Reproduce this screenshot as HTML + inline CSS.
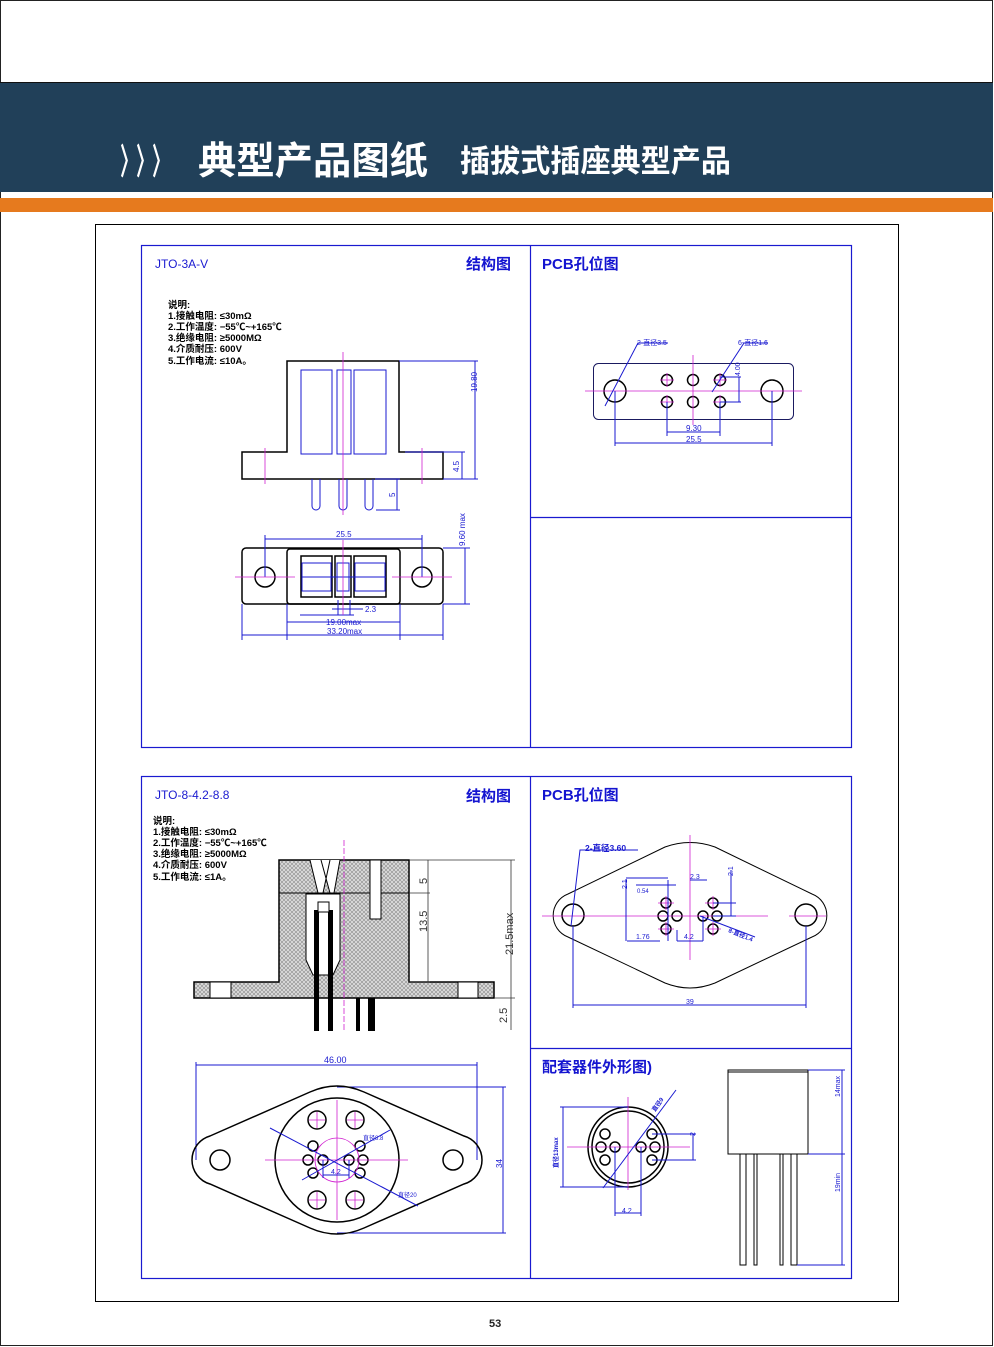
<!DOCTYPE html>
<html><head><meta charset="utf-8"><style>
html,body{margin:0;padding:0;background:#fff}
svg{display:block}
text{font-family:"Liberation Sans","Noto Sans CJK SC",sans-serif}
.b{stroke:#1a1ad0;fill:none;stroke-width:1}
.k{stroke:#000;fill:none;stroke-width:1.5}
.m{stroke:#d020d0;fill:none;stroke-width:0.8}
.bt{fill:#1a1ad0;font-size:8px}
.nt{font-size:9.5px;font-weight:bold;fill:#000}
.ht{fill:#1414d0;font-size:15px;font-weight:bold}
</style></head><body>
<svg width="994" height="1347" viewBox="0 0 994 1347" xmlns="http://www.w3.org/2000/svg">
<defs>
<pattern id="h" width="4" height="4" patternUnits="userSpaceOnUse">
<rect width="4" height="4" fill="#dcdcdc"/>
<path d="M0,0L4,4M4,0L0,4" stroke="#8a8a8a" stroke-width="0.6"/>
</pattern>
</defs>
<rect x="0.5" y="0.5" width="992" height="1345" fill="#fff" stroke="#222" stroke-width="1"/>
<!-- header -->
<rect x="0" y="82" width="993" height="110" fill="#214059"/>
<line x1="0" y1="82.5" x2="993" y2="82.5" stroke="#111"/>
<rect x="0" y="198" width="993" height="14" fill="#e67a1e"/>
<text x="120" y="174" fill="#fff" font-size="36" font-weight="bold" transform="translate(120,0) scale(0.5,1) translate(-120,0)" textLength="100">〉〉〉</text>
<text x="198" y="174" fill="#fff" font-size="38" font-weight="bold" font-family="'Noto Sans CJK SC',sans-serif" textLength="230" lengthAdjust="spacingAndGlyphs">典型产品图纸</text>
<text x="460" y="172" fill="#fff" font-size="31" font-weight="bold" font-family="'Noto Sans CJK SC',sans-serif" textLength="271" lengthAdjust="spacingAndGlyphs">插拔式插座典型产品</text>
<!-- outer frame -->
<rect x="95.5" y="224.5" width="803" height="1077" fill="none" stroke="#000"/>
<!-- panels -->
<g stroke="#1a1ad0" fill="none" stroke-width="1.2">
<rect x="141.5" y="245.5" width="710" height="502"/>
<line x1="530.5" y1="245" x2="530.5" y2="747"/>
<line x1="530" y1="517.5" x2="851" y2="517.5"/>
<rect x="141.5" y="776.5" width="710" height="502"/>
<line x1="530.5" y1="776" x2="530.5" y2="1278"/>
<line x1="530" y1="1048.5" x2="851" y2="1048.5"/>
</g>
<text x="155" y="268" style="font-size:12px" fill="#1a1ad0">JTO-3A-V</text>
<text x="466" y="269" class="ht">结构图</text>
<text x="542" y="269" class="ht">PCB孔位图</text>
<text x="155" y="799" style="font-size:12px" fill="#1a1ad0">JTO-8-4.2-8.8</text>
<text x="466" y="801" class="ht">结构图</text>
<text x="542" y="800" class="ht">PCB孔位图</text>
<text x="542" y="1072" class="ht">配套器件外形图)</text>

<!-- notes 1 -->
<g>
<text x="168" y="308" class="nt">说明:</text>
<text x="168" y="319" class="nt">1.接触电阻: ≤30mΩ</text>
<text x="168" y="330" class="nt">2.工作温度: −55℃~+165℃</text>
<text x="168" y="341" class="nt">3.绝缘电阻: ≥5000MΩ</text>
<text x="168" y="352" class="nt">4.介质耐压: 600V</text>
<text x="168" y="364" class="nt">5.工作电流: ≤10A。</text>
</g>
<!-- JTO-3A-V side view -->
<path d="M287,361H399V452H443V479H242V452H287Z" class="k"/>
<g class="b"><rect x="301" y="370" width="31" height="84"/><rect x="337" y="370" width="14" height="84"/><rect x="354" y="370" width="32" height="84"/>
<path d="M312,479V506a4,4 0 0 0 8,0V479M339,479V506a4,4 0 0 0 8,0V479M365,479V506a4,4 0 0 0 8,0V479"/>
<path d="M399,361H478M443,479H478M475,361V479M405,452H465M462,452V479M375,479H400M397,479V510M376,510H400"/></g>
<text transform="translate(477,392) rotate(-90)" class="bt">19.80</text>
<text transform="translate(459,472) rotate(-90)" class="bt">4.5</text>
<text transform="translate(395,497) rotate(-90)" class="bt">5</text>
<g class="m"><path d="M343,352V515M265,448V484M422,448V484"/></g>
<!-- JTO-3A-V top view -->
<rect x="242" y="548" width="201" height="56" rx="4" class="k"/>
<rect x="287" y="549" width="113" height="55" rx="3" class="k"/>
<circle cx="265" cy="577" r="10" class="k"/><circle cx="422" cy="577" r="10" class="k"/>
<g stroke="#000" stroke-width="1.5" fill="none"><rect x="301" y="556" width="31" height="41"/><rect x="335" y="556" width="16" height="41"/><rect x="354" y="556" width="32" height="41"/></g>
<g class="b"><rect x="302" y="563" width="29" height="28"/><rect x="337" y="563" width="12" height="28"/><rect x="355" y="563" width="30" height="28"/><path d="M302,577H386"/>
<path d="M265,539H422M265,535V577M422,535V577M443,548H470M443,604H470M465,548V604M338,600V615M350,600V615M332,609H363M300,615H354M287,604V640M400,604V640M287,622H400M242,604V640M443,604V640M242,635H443"/></g>
<text x="336" y="537" class="bt">25.5</text>
<text transform="translate(465,546) rotate(-90)" class="bt">9.60 max</text>
<text x="365" y="612" class="bt">2.3</text>
<text x="326" y="625" class="bt">19.00max</text>
<text x="327" y="634" class="bt">33.20max</text>
<g class="m"><path d="M235,577H295M392,577H452M343,540V615"/></g>

<!-- PCB 1 -->
<rect x="593.5" y="363.5" width="200" height="56" rx="5" fill="none" stroke="#1a1a60" stroke-width="1"/>
<g class="k" stroke-width="2"><circle cx="615" cy="391" r="11"/><circle cx="772" cy="391" r="11"/>
<circle cx="667" cy="380" r="5.5"/><circle cx="693" cy="380" r="5.5"/><circle cx="720" cy="380" r="5.5"/>
<circle cx="667" cy="402" r="5.5"/><circle cx="693" cy="402" r="5.5"/><circle cx="720" cy="402" r="5.5"/></g>
<g class="m"><path d="M585,391H802M693,355V425M660,380H674M660,402H674M713,380H727M713,402H727M667,373V387M667,395V409M720,373V387M720,395V409"/></g>
<g class="b"><path d="M605,406L638,343H668M712,392L744,343H768M720,377H741M720,402H741M739,377V402M667,402V436M720,402V436M667,432H720M615,391V446M772,391V446M615,443H772"/></g>
<text x="637" y="345" class="bt" style="font-size:7px">2-直径3.5</text>
<text x="738" y="345" class="bt" style="font-size:7px">6-直径1.6</text>
<text transform="translate(740,376) rotate(-90)" class="bt" style="font-size:7px">4.00</text>
<text x="686" y="431" class="bt">9.30</text>
<text x="686" y="442" class="bt">25.5</text>

<!-- notes 2 -->
<g>
<text x="153" y="824" class="nt">说明:</text>
<text x="153" y="835" class="nt">1.接触电阻: ≤30mΩ</text>
<text x="153" y="846" class="nt">2.工作温度: −55℃~+165℃</text>
<text x="153" y="857" class="nt">3.绝缘电阻: ≥5000MΩ</text>
<text x="153" y="868" class="nt">4.介质耐压: 600V</text>
<text x="153" y="880" class="nt">5.工作电流: ≤1A。</text>
</g>
<!-- JTO-8 side view -->
<path d="M279,860H409V982H494V998H194V982H279Z" fill="url(#h)" stroke="#000" stroke-width="1.5"/>
<rect x="210" y="982" width="21" height="16" fill="#fff" stroke="#000"/>
<rect x="458" y="982" width="20" height="16" fill="#fff" stroke="#000"/>
<line x1="279" y1="893" x2="409" y2="893" stroke="#000"/>
<rect x="370" y="860" width="11" height="59" fill="#fff" stroke="#000"/>
<path d="M306,894H340V960L333,975H313L306,960Z" fill="#fff" stroke="#000"/>
<path d="M310,860L318,893H323L330,860M321,860L330,893H334L340,860" fill="#fff" stroke="#000"/>
<g fill="#000"><rect x="314" y="910" width="5" height="121"/><rect x="328" y="910" width="5" height="121"/><rect x="356" y="998" width="4" height="33"/><rect x="368" y="998" width="7" height="33"/></g>
<rect x="318" y="902" width="11" height="10" fill="#fff" stroke="#000"/>
<g class="m"><path d="M344,840V1030" stroke-dasharray="6,2"/></g>
<g stroke="#333" fill="none" stroke-width="0.8"><path d="M409,860H515M409,893H430M409,982H430M428,860V982M494,998H515M511,860V1030"/></g>
<text transform="translate(427,884) rotate(-90)" fill="#333" font-size="11">5</text>
<text transform="translate(427,932) rotate(-90)" fill="#333" font-size="11">13.5</text>
<text transform="translate(513,955) rotate(-90)" fill="#333" font-size="11">21.5max</text>
<text transform="translate(507,1023) rotate(-90)" fill="#333" font-size="11">2.5</text>
<!-- JTO-8 bottom view -->
<g class="b"><path d="M196,1062V1160M477,1062V1160M196,1065H477M337,1087H506M337,1233H506M503,1087V1233"/></g>
<text x="324" y="1063" class="bt" style="font-size:9px">46.00</text>
<text transform="translate(502,1168) rotate(-90)" class="bt">34</text>
<path d="M210,1136L310,1092Q337,1080 364,1092L464,1136A25,25 0 0 1 464,1184L364,1228Q337,1240 310,1228L210,1184A25,25 0 0 1 210,1136Z" class="k"/>
<circle cx="220" cy="1160" r="10" class="k"/><circle cx="453" cy="1160" r="10" class="k"/>
<circle cx="337" cy="1160" r="62" class="k"/>
<g class="k" stroke-width="2.5"><circle cx="317" cy="1120" r="9"/><circle cx="355" cy="1120" r="9"/><circle cx="317" cy="1200" r="9"/><circle cx="355" cy="1200" r="9"/></g>
<g class="k" stroke-width="2"><circle cx="313" cy="1146" r="5"/><circle cx="308" cy="1160" r="5"/><circle cx="323" cy="1160" r="5"/><circle cx="313" cy="1173" r="5"/>
<circle cx="360" cy="1146" r="5"/><circle cx="363" cy="1160" r="5"/><circle cx="349" cy="1160" r="5"/><circle cx="360" cy="1173" r="5"/></g>
<g class="m"><path d="M265,1160H408M337,1100V1220M309,1120H325M317,1112V1128M347,1120H363M355,1112V1128M309,1200H325M317,1192V1208M347,1200H363M355,1192V1208"/><circle cx="337" cy="1160" r="22"/></g>
<g class="b"><path d="M270,1128L418,1206M302,1180L390,1130M323,1160V1178M349,1160V1178M323,1175H349"/></g>
<text x="363" y="1140" class="bt" style="font-size:6px">直径8.8</text>
<text x="398" y="1197" class="bt" style="font-size:6px">直径20</text>
<text x="331" y="1174" class="bt" style="font-size:7px">4.2</text>

<!-- PCB 2 -->
<path d="M568,894L665,847Q690,838 715,847L812,894A23,23 0 0 1 812,937L715,983Q690,993 665,983L568,937A23,23 0 0 1 568,894Z" fill="none" stroke="#000" stroke-width="1"/>
<g class="k" stroke-width="2"><circle cx="573" cy="915" r="11"/><circle cx="806" cy="915" r="11"/>
<circle cx="666" cy="903" r="5"/><circle cx="663" cy="916" r="5"/><circle cx="677" cy="916" r="5"/><circle cx="666" cy="929" r="5"/>
<circle cx="713" cy="903" r="5"/><circle cx="717" cy="916" r="5"/><circle cx="703" cy="916" r="5"/><circle cx="713" cy="929" r="5"/></g>
<g class="m"><path d="M542,916H768M690,835V960M789,916H826M658,903H674M666,896V910M705,903H721M713,896V910M658,929H674M666,922V936M705,929H721M713,922V936"/></g>
<g class="b"><path d="M571,926L580,850H638M573,926V1008M806,926V1008M573,1005H806M626,879V941M626,878H668M636,885H676M668,880V941M690,880H707M731,870V916M713,903H736M713,916H736M627,941H660M677,941H703M677,930V941M703,916V941M700,916L755,937"/></g>
<text x="585" y="851" class="bt" style="font-size:8.5px;font-weight:bold">2-直径3.60</text>
<text x="690" y="879" class="bt" style="font-size:7px">2.3</text>
<text x="637" y="893" class="bt" style="font-size:6px">0.54</text>
<text x="636" y="939" class="bt" style="font-size:7px">1.76</text>
<text x="684" y="939" class="bt" style="font-size:7px">4.2</text>
<text transform="translate(627,889) rotate(-90)" class="bt" style="font-size:7px">2.1</text>
<text transform="translate(733,876) rotate(-90)" class="bt" style="font-size:7px">2.1</text>
<text transform="translate(728,932) rotate(22)" class="bt" style="font-size:6px;font-weight:bold">8-直径1.4</text>
<text x="686" y="1004" class="bt" style="font-size:7px">39</text>

<!-- accessory -->
<circle cx="628" cy="1147" r="40" class="k" stroke-width="1"/>
<circle cx="628" cy="1147" r="36" class="k" stroke-width="1"/>
<g class="k" stroke-width="1.5"><circle cx="605" cy="1134" r="5"/><circle cx="601" cy="1147" r="5"/><circle cx="615" cy="1147" r="5"/><circle cx="605" cy="1160" r="5"/>
<circle cx="652" cy="1134" r="5"/><circle cx="655" cy="1147" r="5"/><circle cx="641" cy="1147" r="5"/><circle cx="652" cy="1160" r="5"/></g>
<g class="m"><path d="M567,1147H690M628,1097V1190"/></g>
<g class="b"><path d="M603,1188L676,1090M560,1107H628M560,1187H628M563,1107V1187M652,1134H696M652,1160H696M693,1134V1160M615,1147V1216M641,1147V1216M615,1213H641"/></g>
<text transform="translate(655,1112) rotate(-55)" class="bt" style="font-size:6px;font-weight:bold">直径9</text>
<text transform="translate(558,1168) rotate(-90)" class="bt" style="font-size:6px;font-weight:bold">直径13max</text>
<text transform="translate(695,1136) rotate(-90)" class="bt" style="font-size:7px">2</text>
<text x="622" y="1213" class="bt" style="font-size:7px">4.2</text>
<rect x="728" y="1070" width="80" height="84" fill="#fff" stroke="#000" stroke-width="1"/>
<line x1="728" y1="1072" x2="808" y2="1072" stroke="#000"/>
<g fill="none" stroke="#000" stroke-width="1"><rect x="740" y="1154" width="6" height="111"/><rect x="754" y="1154" width="3" height="111"/><rect x="780" y="1154" width="3" height="111"/><rect x="791" y="1154" width="6" height="111"/></g>
<g class="b"><path d="M808,1070H845M808,1154H845M797,1265H845M842,1070V1265"/></g>
<text transform="translate(840,1097) rotate(-90)" class="bt" style="font-size:7px">14max</text>
<text transform="translate(840,1192) rotate(-90)" class="bt" style="font-size:7px">19min</text>

<text x="489" y="1327" font-size="11" font-weight="bold" fill="#222">53</text>
</svg>
</body></html>
